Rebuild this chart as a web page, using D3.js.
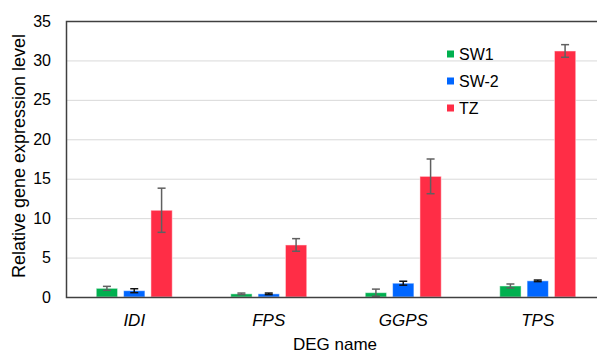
<!DOCTYPE html>
<html>
<head>
<meta charset="utf-8">
<script src="https://d3js.org/d3.v7.min.js"></script>
<style>
  body { margin: 0; background: #fff; }
  text { font-family: "Liberation Sans", Arial, sans-serif; fill: #000; }
</style>
</head>
<body>
<div id="chart"></div>
<script>
var genes = ["IDI", "FPS", "GGPS", "TPS"]
var series = ["SW1", "SW-2", "TZ"]
var sw1 = [1.1, 0.4, 0.55, 1.4]
var sw1Err = [0.25, 0.1, 0.45, 0.25]
var sw2 = [0.8, 0.4, 1.75, 2.05]
var sw2Err = [0.25, 0.1, 0.25, 0.1]
var tz = [11.0, 6.6, 15.3, 31.2]
var tzErr = [2.8, 0.8, 2.2, 0.8]
var yTicks = [0, 5, 10, 15, 20, 25, 30, 35]

var colors = ["#00b04f", "#0066ff", "#ff2d46"]
var errColors = ["#606060", "#111111", "#606060"]

var width = 597, height = 354
var plotLeft = 66, plotTop = 21, plotBottom = 297

var svg = d3.select("#chart").append("svg")
    .attr("width", width)
    .attr("height", height)

var x = d3.scaleBand().domain(genes).range([67, 605]).paddingInner(0).paddingOuter(0)
var xs = d3.scaleBand().domain(series).range([0, x.bandwidth()]).paddingInner(0.22).paddingOuter(1.07)
var y = d3.scaleLinear().domain([0, 35]).range([plotBottom, plotTop])

// grid
svg.append("g").selectAll("line")
    .data(yTicks.filter(function(d) { return d > 0 && d < 35 }))
    .enter().append("line")
    .attr("x1", plotLeft).attr("x2", width)
    .attr("y1", function(d) { return y(d) + 0.5 })
    .attr("y2", function(d) { return y(d) + 0.5 })
    .attr("stroke", "#d9d9d9").attr("stroke-width", 1)

var data = [
    { name: "SW1", vals: sw1, errs: sw1Err },
    { name: "SW-2", vals: sw2, errs: sw2Err },
    { name: "TZ", vals: tz, errs: tzErr }
]

data.forEach(function(s, si) {
    var g = svg.append("g")
    g.selectAll("rect").data(genes).enter().append("rect")
        .attr("x", function(d) { return x(d) + xs(s.name) })
        .attr("width", xs.bandwidth())
        .attr("y", function(d, i) { return y(s.vals[i]) })
        .attr("height", function(d, i) { return plotBottom - y(s.vals[i]) })
        .attr("fill", colors[si])
        .attr("stroke", "#fff").attr("stroke-opacity", 0.5).attr("stroke-width", 1)
    var e = g.selectAll("g.err").data(genes).enter().append("g")
        .attr("stroke", errColors[si]).attr("stroke-width", 1.5)
    e.append("line")
        .attr("x1", function(d) { return x(d) + xs(s.name) + xs.bandwidth() / 2 })
        .attr("x2", function(d) { return x(d) + xs(s.name) + xs.bandwidth() / 2 })
        .attr("y1", function(d, i) { return y(s.vals[i] + s.errs[i]) })
        .attr("y2", function(d, i) { return y(Math.max(0, s.vals[i] - s.errs[i])) })
    ;[1, -1].forEach(function(sg) {
        e.append("line")
            .attr("x1", function(d) { return x(d) + xs(s.name) + xs.bandwidth() / 2 - 4 })
            .attr("x2", function(d) { return x(d) + xs(s.name) + xs.bandwidth() / 2 + 4 })
            .attr("y1", function(d, i) { return y(Math.max(0, s.vals[i] + sg * s.errs[i])) })
            .attr("y2", function(d, i) { return y(Math.max(0, s.vals[i] + sg * s.errs[i])) })
    })
})

// frame: left, top, bottom
svg.append("path")
    .attr("d", "M" + width + "," + (plotTop + 0.5) + "H" + (plotLeft + 0.5) + "V" + (plotBottom + 0.5) + "H" + width)
    .attr("fill", "none").attr("stroke", "#404040").attr("stroke-width", 1.5)

// y tick labels
svg.append("g").selectAll("text").data(yTicks).enter().append("text")
    .attr("x", 51).attr("y", function(d) { return y(d) + 5.5 })
    .attr("text-anchor", "end").style("font-size", "16px")
    .text(function(d) { return d })

// x labels
svg.append("g").selectAll("text").data(genes).enter().append("text")
    .attr("x", function(d) { return x(d) + x.bandwidth() / 2 })
    .attr("y", 326)
    .attr("text-anchor", "middle").style("font-size", "17px").style("font-style", "italic")
    .text(function(d) { return d })

svg.append("text").attr("x", 335).attr("y", 350)
    .attr("text-anchor", "middle").style("font-size", "17px").text("DEG name")

svg.append("text")
    .attr("transform", "translate(25,156) rotate(-90)")
    .attr("text-anchor", "middle").style("font-size", "18px")
    .text("Relative gene expression level")

// legend
var lg = svg.append("g").selectAll("g").data(series).enter().append("g")
    .attr("transform", function(d, i) { return "translate(447," + (54 + i * 27) + ")" })
lg.append("rect").attr("x", 0).attr("y", -3.5).attr("width", 7).attr("height", 7)
    .attr("fill", function(d, i) { return colors[i] })
lg.append("text").attr("x", 12).attr("y", 6).style("font-size", "16px")
    .text(function(d) { return d })
</script>
</body>
</html>
